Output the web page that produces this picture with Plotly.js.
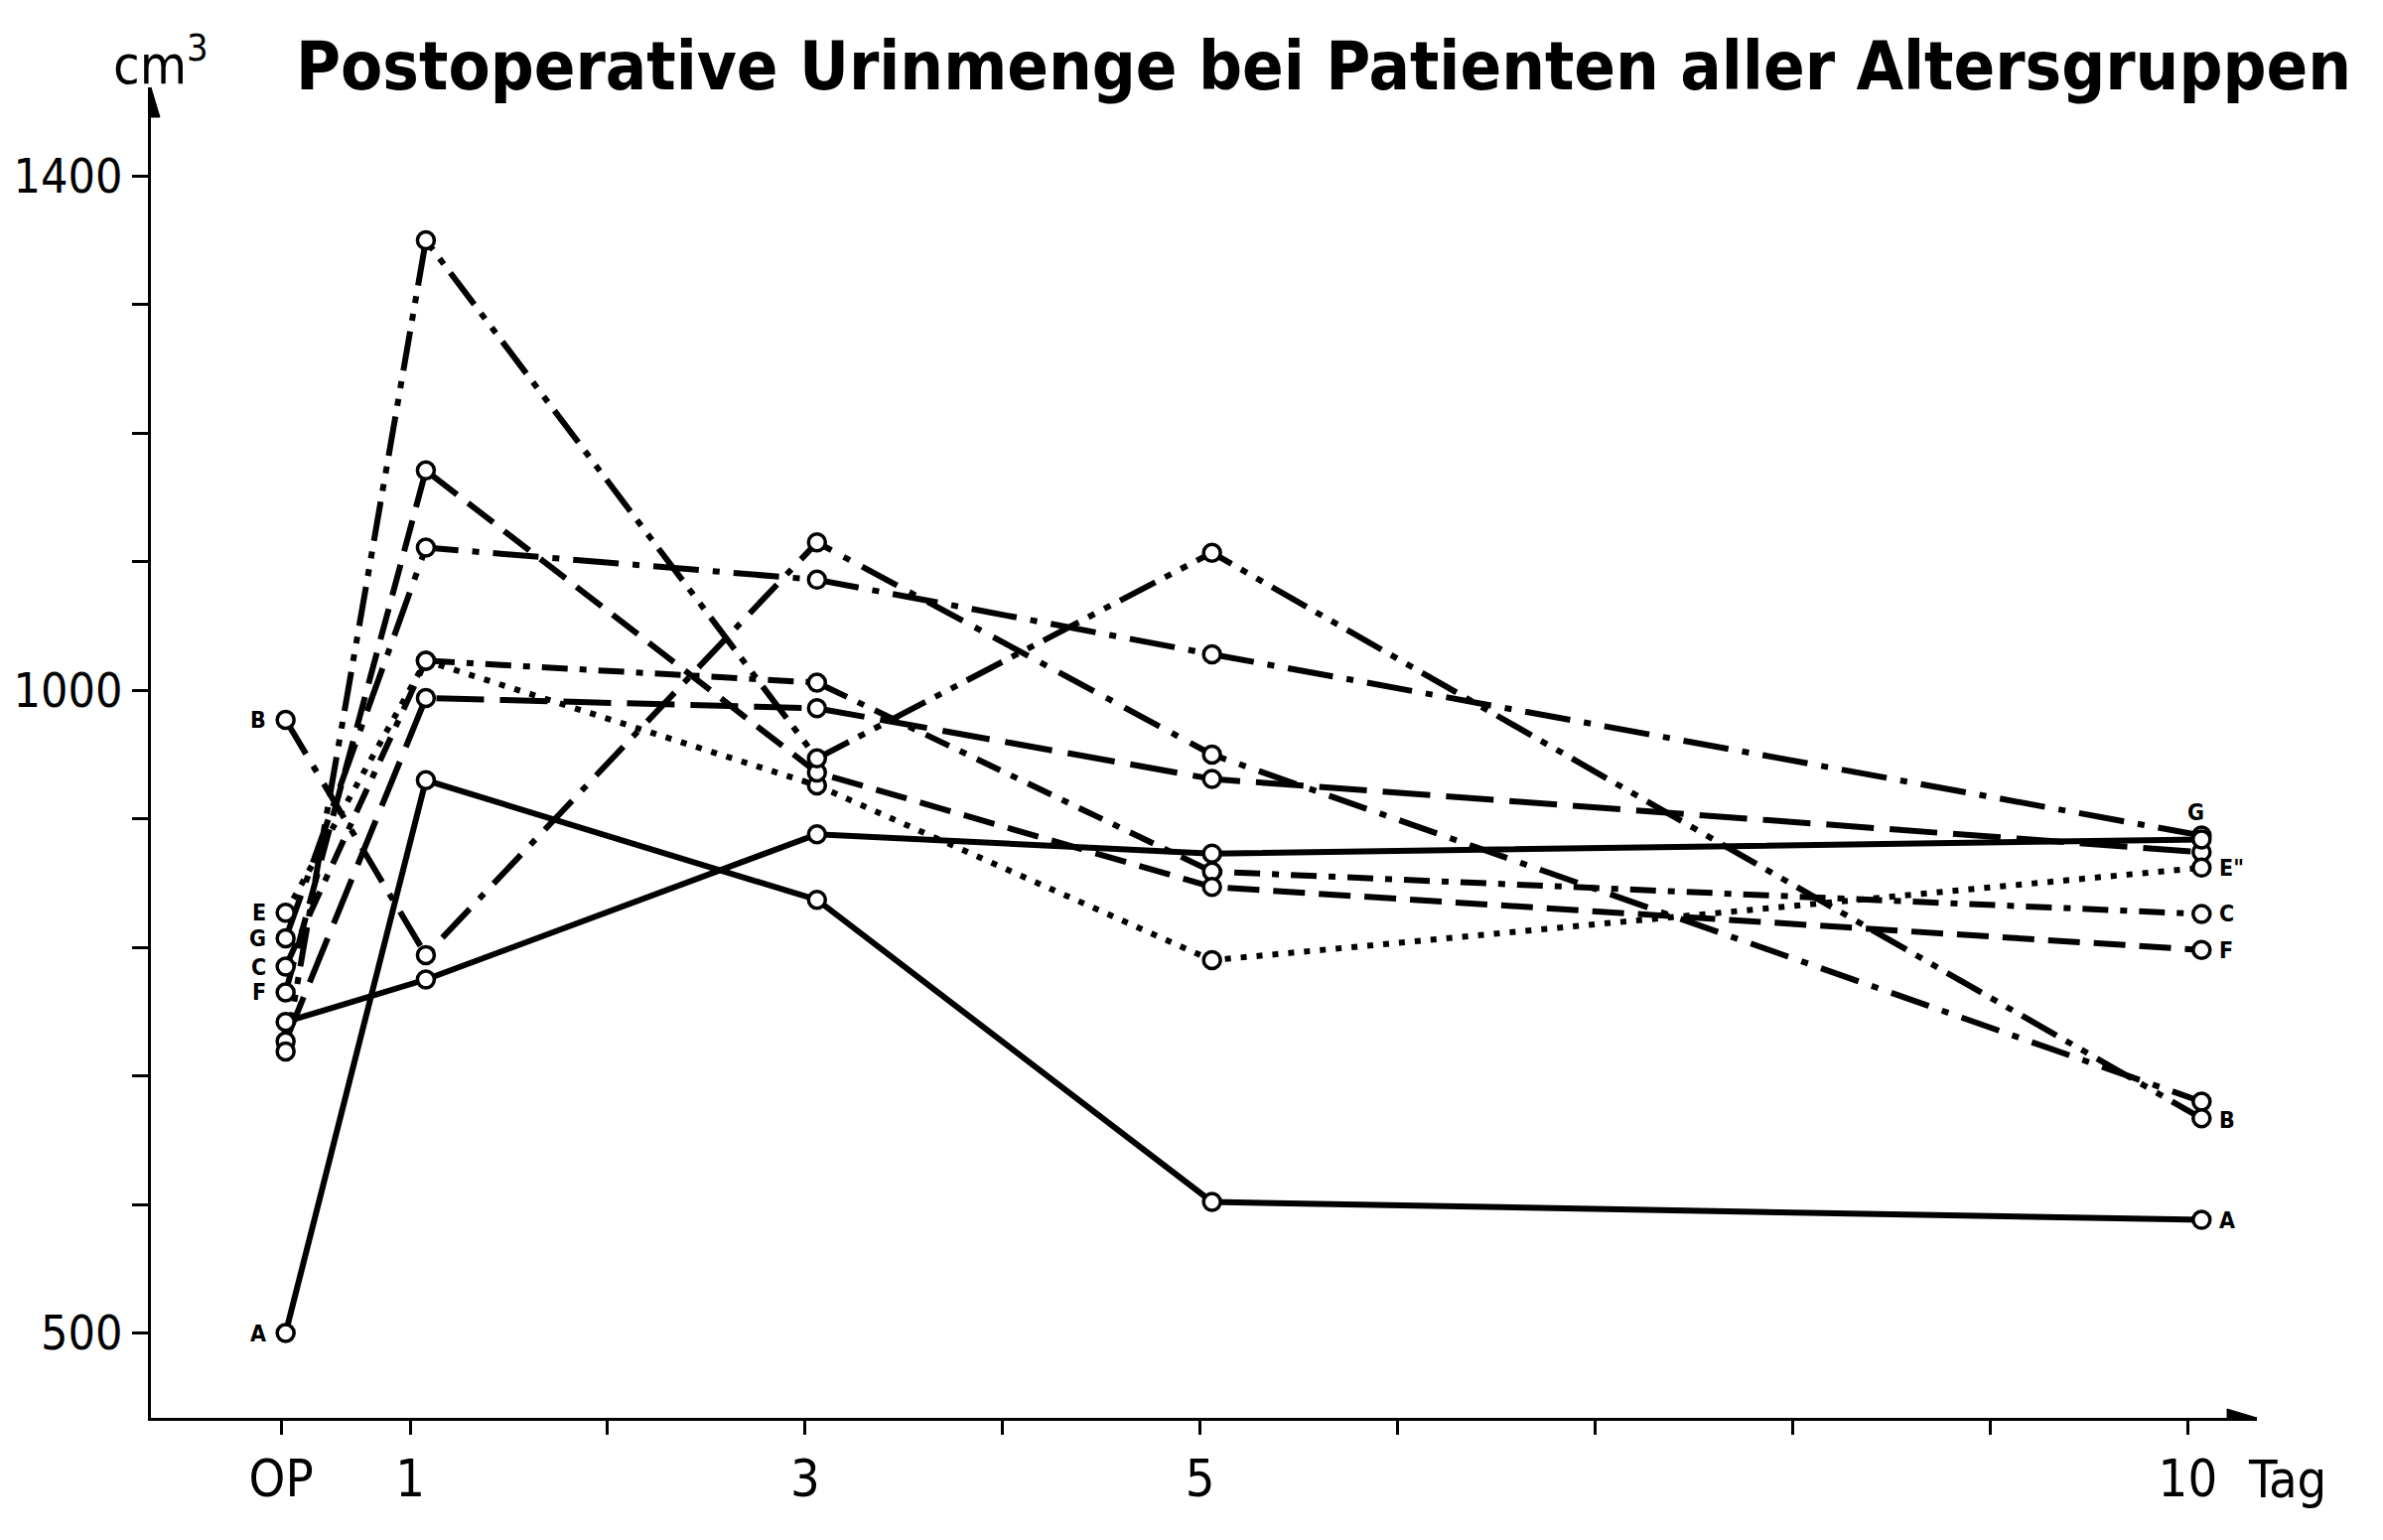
<!DOCTYPE html>
<html><head><meta charset="utf-8">
<script src="https://cdn.plot.ly/plotly-3.0.1.min.js"></script>
<style>html,body{margin:0;padding:0;background:#fff}#chart{width:2400px;height:1551px}</style>
</head><body><div id="chart"></div>
<script>
// ---- data ----
const days = [0.37, 1.08, 3.06, 5.06, 10.07];          // OP, day 1, 3, 5, 10
const urineA = [500, 930, 837, 602, 588];
const urineB = [977, 794, 1115, 950, 680];
const urineC = [785, 1023, 1006, 859, 826];
const urineD = [727, 994, 986, 931, 874];
const urineE = [827, 1023, 926, 790, 862];
const urineF = [765, 1171, 936, 847, 798];
const urineG = [807, 1111, 1086, 1028, 887];
const urineH = [742, 775, 888, 873, 884];
const urineI = [719, 1350, 947, 1107, 667];
const seriesNames = ['A', 'B', 'C', 'D', 'E', 'F', 'G', 'H', 'I'];
const xTickVals = [0.347, 1, 3, 5, 10];
const xTickText = ['OP', '1', '3', '5', '10'];
const xMinorVals = [2, 4, 6, 7, 8, 9];
const yTickVals = [500, 1000, 1400];
const yTickText = ['500', '1000', '1400'];
const yMinorVals = [600, 700, 800, 900, 1100, 1200, 1300];
const leftLabelText = {A: 'A', B: 'B', C: 'C', E: 'E', F: 'F', G: 'G'};
const rightLabelText = {A: 'A', B: 'B', C: 'C', E: 'E"', F: 'F', G: 'G'};
const titleText = 'Postoperative Urinmenge bei Patienten aller Altersgruppen';
const unitText = 'cm<sup>3</sup>';
const dayUnitText = 'Tag';

// ---- styles ----
const FONT = '"DejaVu Sans Condensed", "DejaVu Sans", sans-serif';
const dashes = {
  A: 'solid', B: '40px,14px,7px,14px', C: '26px,12px,7px,12px', D: '48px,16px',
  E: '6px,10px', F: '32px,14px', G: '46px,14px,7px,14px', H: 'solid',
  I: '40px,11px,7px,11px,7px,11px'
};
const values = {A: urineA, B: urineB, C: urineC, D: urineD, E: urineE, F: urineF, G: urineG, H: urineH, I: urineI};

const M = {l: 152, r: 127, t: 88, b: 123};
const W = 2400, H = 1551;
const xRange = [-0.312, 10.35], yRange = [434, 1469];
const pw = W - M.l - M.r, ph = H - M.t - M.b;
const paperX = px => (px - M.l) / pw;
const paperY = py => (H - M.b - py) / ph;

const traces = [];
seriesNames.forEach(n => {
  traces.push({x: days, y: values[n], type: 'scatter', mode: 'lines', name: n,
    line: {color: '#000', width: 6, dash: dashes[n]}, hoverinfo: 'skip', showlegend: false});
});
seriesNames.forEach(n => {
  traces.push({x: days, y: values[n], type: 'scatter', mode: 'markers', name: n,
    marker: {symbol: 'circle', size: 17, color: '#fff', line: {color: '#000', width: 3.5}},
    cliponaxis: false, showlegend: false});
});

const labelFont = {family: FONT, size: 23, color: '#000', weight: 'bold'};
const annotations = [];
Object.keys(leftLabelText).forEach(n => {
  annotations.push({x: days[0], y: values[n][0], xref: 'x', yref: 'y', text: leftLabelText[n],
    showarrow: false, xanchor: 'right', xshift: -18, font: labelFont});
});
Object.keys(rightLabelText).forEach(n => {
  const isG = n === 'G';
  annotations.push({x: days[4], y: values[n][4], xref: 'x', yref: 'y', text: rightLabelText[n],
    showarrow: false, xanchor: isG ? 'center' : 'left', xshift: isG ? -6 : 16,
    yshift: isG ? 24 : (n === 'B' ? -18 : 0), font: labelFont});
});
// unit labels
annotations.push({x: paperX(112), y: paperY(62), xref: 'paper', yref: 'paper', text: unitText, showarrow: false,
  xanchor: 'left', yanchor: 'middle', font: {family: FONT, size: 54, color: '#000'}});
annotations.push({x: paperX(2303), y: paperY(1490), xref: 'paper', yref: 'paper', text: dayUnitText, showarrow: false,
  xanchor: 'center', yanchor: 'middle', font: {family: FONT, size: 52, color: '#000'}});

// axis arrowheads
const shapes = [
  {type: 'path', xref: 'x', yref: 'y', xsizemode: 'pixel', ysizemode: 'pixel', xanchor: xRange[1], yanchor: yRange[0],
   path: 'M 0 0 L -30 -9 L -30 9 Z', fillcolor: '#000', line: {color: '#000', width: 1}},
  {type: 'path', xref: 'x', yref: 'y', xsizemode: 'pixel', ysizemode: 'pixel', xanchor: xRange[0], yanchor: yRange[1],
   path: 'M 0 0 L -9 -30 L 9 -30 Z', fillcolor: '#000', line: {color: '#000', width: 1}}
];

const axisCommon = {showgrid: false, zeroline: false, showline: true, linecolor: '#000', linewidth: 3,
  ticks: 'outside', tickcolor: '#000', tickwidth: 3, tickmode: 'array', automargin: false, fixedrange: true};

const layout = {
  width: W, height: H, margin: M, paper_bgcolor: '#fff', plot_bgcolor: '#fff', showlegend: false,
  title: {text: titleText, x: 298 / W, xanchor: 'left', xref: 'container',
    y: 1 - 66 / H, yanchor: 'middle', yref: 'container',
    font: {family: FONT, size: 68, color: '#000', weight: 'bold'}},
  xaxis: Object.assign({}, axisCommon, {range: xRange, tickvals: xTickVals, ticktext: xTickText, ticklen: 14,
    tickfont: {family: FONT, size: 52, color: '#000'},
    minor: {tickmode: 'array', tickvals: xMinorVals, ticks: 'outside', ticklen: 14, tickwidth: 3, tickcolor: '#000', showgrid: false}}),
  yaxis: Object.assign({}, axisCommon, {range: yRange, tickvals: yTickVals, ticktext: yTickText, ticklen: 16,
    tickfont: {family: FONT, size: 48, color: '#000'},
    minor: {tickmode: 'array', tickvals: yMinorVals, ticks: 'outside', ticklen: 16, tickwidth: 3, tickcolor: '#000', showgrid: false}}),
  annotations: annotations,
  shapes: shapes
};

Plotly.newPlot('chart', traces, layout, {staticPlot: true, displayModeBar: false}).then(gd => {
  // fit the title to the reference's width
  const t = gd.querySelector('.gtitle');
  if (t) {
    t.setAttribute('textLength', 2070);
    t.setAttribute('lengthAdjust', 'spacingAndGlyphs');
  }
});
</script></body></html>
